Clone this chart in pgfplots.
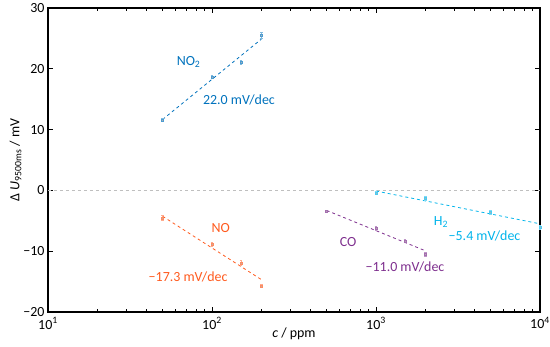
\documentclass[border=0pt]{standalone}
\usepackage{pgfplots}
\pgfplotsset{compat=1.18}
\usepackage{fontspec}
\setmainfont{Carlito}
\definecolor{cNOtwo}{RGB}{0,114,189}
\definecolor{cNO}{RGB}{255,90,30}
\definecolor{cCO}{RGB}{126,47,142}
\definecolor{cHtwo}{RGB}{0,180,235}
\begin{document}
\begin{tikzpicture}
\begin{axis}[
  scale only axis, width=492bp, height=304bp,
  xmode=log, xmin=10, xmax=10000,
  ymin=-20, ymax=30, ytick={-20,-10,0,10,20,30},
  yticklabels={−20,−10,0,10,20,30},
  xtick={10,100,1000,10000},
  xticklabels={10\textsuperscript{1},10\textsuperscript{2},10\textsuperscript{3},10\textsuperscript{4}},
  tick align=inside, axis line style={line width=1.1pt},
  every tick/.style={black, line width=0.8pt},
  major tick length=5pt, minor tick length=3pt,
  font=\fontsize{14}{16}\selectfont,
  xticklabel style={yshift=-2pt},
  xlabel={\textit{c} / ppm}, ylabel={Δ \textit{U}\textsubscript{9500ms} / mV},
  xlabel style={yshift=8pt}, ylabel style={yshift=-5pt},
  clip=false,
]
\addplot[gray!50, dashed, line width=0.5pt] coordinates {(10,0) (10000,0)};
% fit lines
\addplot[cNOtwo, dashed, line width=0.8pt] coordinates {(50,11.67) (200,24.88)};
\addplot[cNO, dashed, line width=0.8pt] coordinates {(50,-4.26) (200,-14.67)};
\addplot[cCO, dashed, line width=0.8pt] coordinates {(500,-3.3) (2000,-9.93)};
\addplot[cHtwo, dashed, line width=0.8pt] coordinates {(1000,-0.1) (10000,-5.5)};
% data
\addplot[only marks, mark=square*, mark size=1pt, mark options={fill=gray!60, draw=cNOtwo!70, line width=0.3pt},
  error bars/.cd, y dir=both, y explicit, error bar style={cNOtwo!50, line width=0.4pt}, error mark options={rotate=90, mark size=1.3pt, cNOtwo!50}]
  coordinates {(50,11.6) +- (0,0.3) (100,18.7) +- (0,0.3) (150,21.1) +- (0,0.3) (200,25.6) +- (0,0.5)};
\addplot[only marks, mark=square*, mark size=1pt, mark options={fill=gray!60, draw=cNO!70, line width=0.3pt},
  error bars/.cd, y dir=both, y explicit, error bar style={cNO!50, line width=0.4pt}, error mark options={rotate=90, mark size=1.3pt, cNO!50}]
  coordinates {(50,-4.5) +- (0,0.4) (100,-8.8) +- (0,0.3) (150,-11.9) +- (0,0.4) (200,-15.7) +- (0,0.3)};
\addplot[only marks, mark=square*, mark size=1pt, mark options={fill=gray!60, draw=cCO!70, line width=0.3pt},
  error bars/.cd, y dir=both, y explicit, error bar style={cCO!50, line width=0.4pt}, error mark options={rotate=90, mark size=1.3pt, cCO!50}]
  coordinates {(500,-3.4) +- (0,0.2) (1000,-6.2) +- (0,0.3) (1500,-8.3) +- (0,0.3) (2000,-10.5) +- (0,0.3)};
\addplot[only marks, mark=square*, mark size=1pt, mark options={fill=gray!60, draw=cHtwo!70, line width=0.3pt},
  error bars/.cd, y dir=both, y explicit, error bar style={cHtwo!50, line width=0.4pt}, error mark options={rotate=90, mark size=1.3pt, cHtwo!50}]
  coordinates {(1000,-0.4) +- (0,0.3) (2000,-1.25) +- (0,0.3) (5000,-3.55) +- (0,0.3) (10000,-6.0) +- (0,0.3)};
% labels
\node[cNOtwo] at (axis cs:72,21.1) {NO\textsubscript{2}};
\node[cNOtwo] at (axis cs:146,14.9) {22.0 mV/dec};
\node[cNO] at (axis cs:113,-6.2) {NO};
\node[cNO] at (axis cs:71.5,-14.2) {−17.3 mV/dec};
\node[cCO] at (axis cs:676,-8.5) {CO};
\node[cCO] at (axis cs:1503,-12.6) {−11.0 mV/dec};
\node[cHtwo] at (axis cs:2490,-5.2) {H\textsubscript{2}};
\node[cHtwo] at (axis cs:4590,-7.5) {−5.4 mV/dec};
\end{axis}
\pgfresetboundingbox
\path (-48bp,-35bp) rectangle (502bp,312bp);
\end{tikzpicture}
\end{document}
